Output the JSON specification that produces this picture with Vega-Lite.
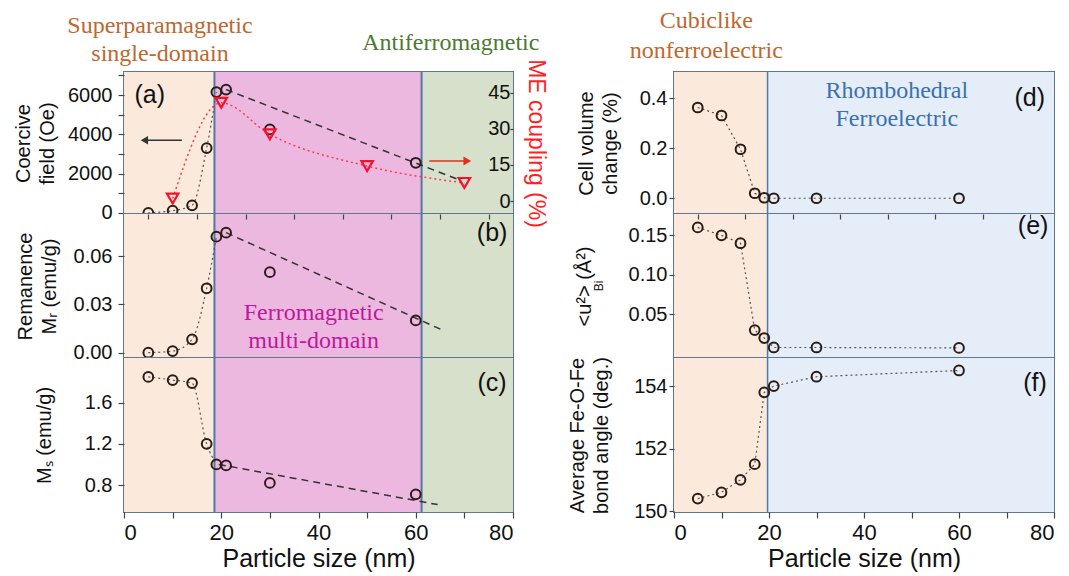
{
  "$schema": "https://vega.github.io/schema/vega-lite/v6.json",
  "background": "white",
  "padding": {"left": 12, "top": 8, "right": 4, "bottom": 4},
  "datasets": {
    "leftPhases": [
      {"x0": 0, "x1": 18.6, "phase": "single-domain"},
      {"x0": 18.6, "x1": 61.2, "phase": "multi-domain"},
      {"x0": 61.2, "x1": 80, "phase": "antiferromagnetic"}
    ],
    "rightPhases": [
      {"x0": 0, "x1": 19.7, "phase": "cubiclike"},
      {"x0": 19.7, "x1": 80, "phase": "rhombohedral"}
    ],
    "magnetic": [
      {"size": 5, "hc": 0, "mr": 0.0, "ms": 1.85},
      {"size": 10, "hc": 110, "mr": 0.001, "ms": 1.82},
      {"size": 14, "hc": 380, "mr": 0.0083, "ms": 1.79},
      {"size": 17, "hc": 3300, "mr": 0.04, "ms": 1.2},
      {"size": 19, "hc": 6150, "mr": 0.072, "ms": 1.0},
      {"size": 21, "hc": 6280, "mr": 0.0745, "ms": 0.99},
      {"size": 30, "hc": 4250, "mr": 0.05, "ms": 0.82},
      {"size": 60, "hc": 2550, "mr": 0.02, "ms": 0.71}
    ],
    "me": [
      {"size": 10, "me": 1},
      {"size": 20, "me": 40.8},
      {"size": 30, "me": 27.7},
      {"size": 50, "me": 14.5},
      {"size": 70, "me": 7.5}
    ],
    "linearFits": [
      {"panel": "hc", "size": 21, "v": 6280},
      {"panel": "hc", "size": 68.5, "v": 1720},
      {"panel": "mr", "size": 21, "v": 0.0745},
      {"panel": "mr", "size": 65.5, "v": 0.014},
      {"panel": "ms", "size": 19.5, "v": 1.0},
      {"panel": "ms", "size": 64.5, "v": 0.61}
    ],
    "structure": [
      {"size": 5, "dv": 0.363, "u2": 0.16, "angle": 150.4},
      {"size": 10, "dv": 0.331, "u2": 0.15, "angle": 150.6},
      {"size": 14, "dv": 0.196, "u2": 0.14, "angle": 151.0},
      {"size": 17, "dv": 0.02, "u2": 0.03, "angle": 151.5},
      {"size": 19, "dv": 0.002, "u2": 0.02, "angle": 153.8},
      {"size": 21, "dv": 0.0, "u2": 0.008, "angle": 154.0},
      {"size": 30, "dv": 0.0, "u2": 0.008, "angle": 154.3},
      {"size": 60, "dv": 0.0, "u2": 0.0075, "angle": 154.5}
    ]
  },
  "columns": 2,
  "spacing": {"row": 0, "column": 161},
  "bounds": "flush",
  "concat": [
    {
      "width": 389,
      "height": 142,
      "resolve": {"scale": {"y": "independent"}},
      "layer": [
        {
          "data": {"name": "leftPhases"},
          "mark": {"type": "rect"},
          "encoding": {
            "x": {"field": "x0", "type": "quantitative", "scale": {"domain": [0, 80], "nice": false, "zero": false}, "axis": null},
            "x2": {"field": "x1"},
            "color": {"field": "phase", "type": "nominal", "scale": {"domain": ["single-domain", "multi-domain", "antiferromagnetic", "cubiclike", "rhombohedral"], "range": ["#FBEADC", "#EDB8E0", "#D6E0CA", "#FBEADC", "#E4EDF8"]}, "legend": null}
          }
        },
        {
          "data": {"name": "leftPhases"},
          "transform": [{"filter": "datum.x0 > 0"}],
          "mark": {"type": "rule", "color": "#4F78A6", "strokeWidth": 2},
          "encoding": {
            "x": {"field": "x0", "type": "quantitative", "scale": {"domain": [0, 80], "nice": false, "zero": false}, "axis": null}
          }
        },
        {
          "data": {"name": "magnetic"},
          "transform": [{"filter": "datum.size <= 19"}],
          "mark": {"type": "line", "interpolate": "monotone", "strokeDash": [2, 3], "color": "#555555", "strokeWidth": 1.2},
          "encoding": {
            "x": {"field": "size", "type": "quantitative", "scale": {"domain": [0, 80], "nice": false, "zero": false}, "axis": null},
            "y": {"field": "hc", "type": "quantitative", "scale": {"domain": [-60, 7175], "nice": false, "zero": false}, "axis": null}
          }
        },
        {
          "data": {"name": "linearFits"},
          "transform": [{"filter": "datum.panel === 'hc'"}],
          "mark": {"type": "line", "strokeDash": [7, 5], "color": "#333333", "strokeWidth": 1.5},
          "encoding": {
            "x": {"field": "size", "type": "quantitative", "scale": {"domain": [0, 80], "nice": false, "zero": false}, "axis": null},
            "y": {"field": "v", "type": "quantitative", "scale": {"domain": [-60, 7175], "nice": false, "zero": false}, "axis": null}
          }
        },
        {
          "data": {"name": "magnetic"},
          "mark": {"type": "point", "shape": "circle", "filled": false, "size": 95, "strokeWidth": 2, "color": "#2b1c16", "opacity": 1},
          "encoding": {
            "x": {"field": "size", "type": "quantitative", "scale": {"domain": [0, 80], "nice": false, "zero": false}, "axis": null},
            "y": {
              "field": "hc", "type": "quantitative",
              "scale": {"domain": [-60, 7175], "nice": false, "zero": false},
              "axis": {"orient": "left", "zindex": 1, "labelOverlap": false, "values": [0, 1000, 2000, 3000, 4000, 5000, 6000, 7000], "format": "d", "labelExpr": "datum.value % 2000 === 0 ? datum.label : ''", "tickSize": 6, "labelPadding": 6, "title": ["Coercive", "field (Oe)"], "titlePadding": 10, "titleLineHeight": 24}
            }
          }
        },
        {
          "data": {"values": [{}]},
          "mark": {"type": "rule", "color": "#333333", "strokeWidth": 1.5},
          "encoding": {
            "x": {"datum": 11.9, "type": "quantitative", "scale": {"domain": [0, 80], "nice": false, "zero": false}, "axis": null},
            "x2": {"datum": 4.6},
            "y": {"datum": 3695, "type": "quantitative", "scale": {"domain": [-60, 7175], "nice": false, "zero": false}, "axis": null}
          }
        },
        {
          "data": {"values": [{}]},
          "mark": {"type": "point", "shape": "triangle-left", "filled": true, "size": 70, "color": "#333333", "opacity": 1},
          "encoding": {
            "x": {"datum": 4.2, "type": "quantitative", "scale": {"domain": [0, 80], "nice": false, "zero": false}, "axis": null},
            "y": {"datum": 3695, "type": "quantitative", "scale": {"domain": [-60, 7175], "nice": false, "zero": false}, "axis": null}
          }
        },
        {
          "data": {"values": [{}]},
          "mark": {"type": "text", "text": ["Superparamagnetic", "single-domain"], "font": "Liberation Serif", "fontSize": 24, "lineHeight": 28, "color": "#C0672E", "align": "center", "baseline": "middle"},
          "encoding": {
            "x": {"datum": 7.4, "type": "quantitative", "scale": {"domain": [0, 80], "nice": false, "zero": false}, "axis": null},
            "y": {"datum": 9519, "type": "quantitative", "scale": {"domain": [-60, 7175], "nice": false, "zero": false}, "axis": null}
          }
        },
        {
          "data": {"values": [{}]},
          "mark": {"type": "text", "text": "Antiferromagnetic", "font": "Liberation Serif", "fontSize": 24, "color": "#4C7A34", "align": "center", "baseline": "middle"},
          "encoding": {
            "x": {"datum": 67.2, "type": "quantitative", "scale": {"domain": [0, 80], "nice": false, "zero": false}, "axis": null},
            "y": {"datum": 8668, "type": "quantitative", "scale": {"domain": [-60, 7175], "nice": false, "zero": false}, "axis": null}
          }
        },
        {
          "data": {"values": [{}]},
          "mark": {"type": "text", "text": "(a)", "font": "Liberation Sans", "fontSize": 25, "color": "#111111", "align": "center", "baseline": "middle"},
          "encoding": {
            "x": {"datum": 5.3, "type": "quantitative", "scale": {"domain": [0, 80], "nice": false, "zero": false}, "axis": null},
            "y": {"datum": 6000, "type": "quantitative", "scale": {"domain": [-60, 7175], "nice": false, "zero": false}, "axis": null}
          }
        },
        {
          "data": {"name": "me"},
          "mark": {"type": "line", "interpolate": "monotone", "strokeDash": [2, 3], "color": "#FF3B4B", "strokeWidth": 1.5},
          "encoding": {
            "x": {"field": "size", "type": "quantitative", "scale": {"domain": [0, 80], "nice": false, "zero": false}, "axis": null},
            "y": {"field": "me", "type": "quantitative", "scale": {"domain": [-5.4, 53.6], "nice": false, "zero": false}, "axis": null}
          }
        },
        {
          "data": {"name": "me"},
          "mark": {"type": "point", "shape": "triangle-down", "filled": false, "size": 130, "strokeWidth": 2.2, "color": "#F5102C", "opacity": 1},
          "encoding": {
            "x": {"field": "size", "type": "quantitative", "scale": {"domain": [0, 80], "nice": false, "zero": false}, "axis": null},
            "y": {
              "field": "me", "type": "quantitative",
              "scale": {"domain": [-5.4, 53.6], "nice": false, "zero": false},
              "axis": {"orient": "right", "zindex": 1, "labelOverlap": false, "values": [0, 15, 30, 45], "format": "d", "labelAlign": "right", "tickSize": -3, "labelPadding": 0, "title": "ME coupling (%)", "titleColor": "#FF1F1F", "titleFontSize": 23, "titlePadding": 10, "titleAngle": 90}
            }
          }
        },
        {
          "data": {"values": [{}]},
          "mark": {"type": "rule", "color": "#E0301E", "strokeWidth": 1.5},
          "encoding": {
            "x": {"datum": 62.8, "type": "quantitative", "scale": {"domain": [0, 80], "nice": false, "zero": false}, "axis": null},
            "x2": {"datum": 70.2},
            "y": {"datum": 16.6, "type": "quantitative", "scale": {"domain": [-5.4, 53.6], "nice": false, "zero": false}, "axis": null}
          }
        },
        {
          "data": {"values": [{}]},
          "mark": {"type": "point", "shape": "triangle-right", "filled": true, "size": 80, "color": "#E0301E", "opacity": 1},
          "encoding": {
            "x": {"datum": 70.6, "type": "quantitative", "scale": {"domain": [0, 80], "nice": false, "zero": false}, "axis": null},
            "y": {"datum": 16.6, "type": "quantitative", "scale": {"domain": [-5.4, 53.6], "nice": false, "zero": false}, "axis": null}
          }
        }
      ]
    },
    {
      "width": 380,
      "height": 142,
      "layer": [
        {
          "data": {"name": "rightPhases"},
          "mark": {"type": "rect"},
          "encoding": {
            "x": {"field": "x0", "type": "quantitative", "scale": {"domain": [0, 80], "nice": false, "zero": false}, "axis": null},
            "x2": {"field": "x1"},
            "color": {"field": "phase", "type": "nominal", "scale": {"domain": ["single-domain", "multi-domain", "antiferromagnetic", "cubiclike", "rhombohedral"], "range": ["#FBEADC", "#EDB8E0", "#D6E0CA", "#FBEADC", "#E4EDF8"]}, "legend": null}
          }
        },
        {
          "data": {"name": "rightPhases"},
          "transform": [{"filter": "datum.x0 > 0"}],
          "mark": {"type": "rule", "color": "#4F78A6", "strokeWidth": 1.5},
          "encoding": {
            "x": {"field": "x0", "type": "quantitative", "scale": {"domain": [0, 80], "nice": false, "zero": false}, "axis": null}
          }
        },
        {
          "data": {"name": "structure"},
          "mark": {"type": "line", "strokeDash": [2, 3], "color": "#555555", "strokeWidth": 1.2},
          "encoding": {
            "x": {"field": "size", "type": "quantitative", "scale": {"domain": [0, 80], "nice": false, "zero": false}, "axis": null},
            "y": {
              "field": "dv", "type": "quantitative",
              "scale": {"domain": [-0.063, 0.505], "nice": false, "zero": false},
              "axis": {"orient": "left", "zindex": 1, "labelOverlap": false, "values": [0, 0.1, 0.2, 0.3, 0.4], "format": ".1f", "labelExpr": "round(datum.value * 10) % 2 === 0 ? datum.label : ''", "tickSize": 5, "labelPadding": 2, "title": ["Cell volume", "change (%)"], "titlePadding": 19, "titleLineHeight": 24}
            }
          }
        },
        {
          "data": {"name": "structure"},
          "mark": {"type": "point", "shape": "circle", "filled": false, "size": 95, "strokeWidth": 2, "color": "#2b1c16", "opacity": 1},
          "encoding": {
            "x": {"field": "size", "type": "quantitative", "scale": {"domain": [0, 80], "nice": false, "zero": false}, "axis": null},
            "y": {"field": "dv", "type": "quantitative", "scale": {"domain": [-0.063, 0.505], "nice": false, "zero": false}}
          }
        },
        {
          "data": {"values": [{}]},
          "mark": {"type": "text", "text": ["Cubiclike", "nonferroelectric"], "font": "Liberation Serif", "fontSize": 24, "lineHeight": 30, "color": "#C0672E", "align": "center", "baseline": "middle"},
          "encoding": {
            "x": {"datum": 6.8, "type": "quantitative", "scale": {"domain": [0, 80], "nice": false, "zero": false}, "axis": null},
            "y": {"datum": 0.709, "type": "quantitative", "scale": {"domain": [-0.063, 0.505], "nice": false, "zero": false}}
          }
        },
        {
          "data": {"values": [{}]},
          "mark": {"type": "text", "text": ["Rhombohedral", "Ferroelectric"], "font": "Liberation Serif", "fontSize": 24, "lineHeight": 28, "color": "#3C70AE", "align": "center", "baseline": "middle"},
          "encoding": {
            "x": {"datum": 46.9, "type": "quantitative", "scale": {"domain": [0, 80], "nice": false, "zero": false}, "axis": null},
            "y": {"datum": 0.429, "type": "quantitative", "scale": {"domain": [-0.063, 0.505], "nice": false, "zero": false}}
          }
        },
        {
          "data": {"values": [{}]},
          "mark": {"type": "text", "text": "(d)", "font": "Liberation Sans", "fontSize": 25, "color": "#111111", "align": "center", "baseline": "middle"},
          "encoding": {
            "x": {"datum": 74.9, "type": "quantitative", "scale": {"domain": [0, 80], "nice": false, "zero": false}, "axis": null},
            "y": {"datum": 0.402, "type": "quantitative", "scale": {"domain": [-0.063, 0.505], "nice": false, "zero": false}}
          }
        }
      ]
    },
    {
      "width": 389,
      "height": 144,
      "layer": [
        {
          "data": {"name": "leftPhases"},
          "mark": {"type": "rect"},
          "encoding": {
            "x": {"field": "x0", "type": "quantitative", "scale": {"domain": [0, 80], "nice": false, "zero": false}, "axis": {"orient": "top", "zindex": 1, "values": [5, 10, 15, 20, 25, 30, 35, 40, 45, 50, 55, 60, 65, 70, 75], "labels": false, "tickSize": -5, "title": null}},
            "x2": {"field": "x1"},
            "color": {"field": "phase", "type": "nominal", "scale": {"domain": ["single-domain", "multi-domain", "antiferromagnetic", "cubiclike", "rhombohedral"], "range": ["#FBEADC", "#EDB8E0", "#D6E0CA", "#FBEADC", "#E4EDF8"]}, "legend": null}
          }
        },
        {
          "data": {"name": "leftPhases"},
          "transform": [{"filter": "datum.x0 > 0"}],
          "mark": {"type": "rule", "color": "#4F78A6", "strokeWidth": 2},
          "encoding": {
            "x": {"field": "x0", "type": "quantitative", "scale": {"domain": [0, 80], "nice": false, "zero": false}}
          }
        },
        {
          "data": {"name": "magnetic"},
          "transform": [{"filter": "datum.size <= 19"}],
          "mark": {"type": "line", "interpolate": "monotone", "strokeDash": [2, 3], "color": "#555555", "strokeWidth": 1.2},
          "encoding": {
            "x": {"field": "size", "type": "quantitative", "scale": {"domain": [0, 80], "nice": false, "zero": false}},
            "y": {
              "field": "mr", "type": "quantitative",
              "scale": {"domain": [-0.0033, 0.0861], "nice": false, "zero": false},
              "axis": {"orient": "left", "zindex": 1, "labelOverlap": false, "values": [0, 0.015, 0.03, 0.045, 0.06, 0.075], "format": ".2f", "labelExpr": "round(datum.value * 1000) % 30 === 0 ? datum.label : ''", "tickSize": 6, "labelPadding": 6, "title": ["Remanence", "Mᵣ (emu/g)"], "titlePadding": 14, "titleLineHeight": 24}
            }
          }
        },
        {
          "data": {"name": "linearFits"},
          "transform": [{"filter": "datum.panel === 'mr'"}],
          "mark": {"type": "line", "strokeDash": [7, 5], "color": "#333333", "strokeWidth": 1.5},
          "encoding": {
            "x": {"field": "size", "type": "quantitative", "scale": {"domain": [0, 80], "nice": false, "zero": false}},
            "y": {"field": "v", "type": "quantitative", "scale": {"domain": [-0.0033, 0.0861], "nice": false, "zero": false}}
          }
        },
        {
          "data": {"name": "magnetic"},
          "mark": {"type": "point", "shape": "circle", "filled": false, "size": 95, "strokeWidth": 2, "color": "#2b1c16", "opacity": 1},
          "encoding": {
            "x": {"field": "size", "type": "quantitative", "scale": {"domain": [0, 80], "nice": false, "zero": false}},
            "y": {"field": "mr", "type": "quantitative", "scale": {"domain": [-0.0033, 0.0861], "nice": false, "zero": false}}
          }
        },
        {
          "data": {"values": [{}]},
          "mark": {"type": "text", "text": ["Ferromagnetic", "multi-domain"], "font": "Liberation Serif", "fontSize": 24, "lineHeight": 28, "color": "#C0179C", "align": "center", "baseline": "middle"},
          "encoding": {
            "x": {"datum": 39, "type": "quantitative", "scale": {"domain": [0, 80], "nice": false, "zero": false}},
            "y": {"datum": 0.0249, "type": "quantitative", "scale": {"domain": [-0.0033, 0.0861], "nice": false, "zero": false}}
          }
        },
        {
          "data": {"values": [{}]},
          "mark": {"type": "text", "text": "(b)", "font": "Liberation Sans", "fontSize": 25, "color": "#111111", "align": "center", "baseline": "middle"},
          "encoding": {
            "x": {"datum": 75.7, "type": "quantitative", "scale": {"domain": [0, 80], "nice": false, "zero": false}},
            "y": {"datum": 0.0745, "type": "quantitative", "scale": {"domain": [-0.0033, 0.0861], "nice": false, "zero": false}}
          }
        }
      ]
    },
    {
      "width": 380,
      "height": 144,
      "layer": [
        {
          "data": {"name": "rightPhases"},
          "mark": {"type": "rect"},
          "encoding": {
            "x": {"field": "x0", "type": "quantitative", "scale": {"domain": [0, 80], "nice": false, "zero": false}, "axis": {"orient": "top", "zindex": 1, "values": [5, 10, 15, 20, 25, 30, 35, 40, 45, 50, 55, 60, 65, 70, 75], "labels": false, "tickSize": -5, "title": null}},
            "x2": {"field": "x1"},
            "color": {"field": "phase", "type": "nominal", "scale": {"domain": ["single-domain", "multi-domain", "antiferromagnetic", "cubiclike", "rhombohedral"], "range": ["#FBEADC", "#EDB8E0", "#D6E0CA", "#FBEADC", "#E4EDF8"]}, "legend": null}
          }
        },
        {
          "data": {"name": "rightPhases"},
          "transform": [{"filter": "datum.x0 > 0"}],
          "mark": {"type": "rule", "color": "#4F78A6", "strokeWidth": 1.5},
          "encoding": {
            "x": {"field": "x0", "type": "quantitative", "scale": {"domain": [0, 80], "nice": false, "zero": false}}
          }
        },
        {
          "data": {"name": "structure"},
          "mark": {"type": "line", "strokeDash": [2, 3], "color": "#555555", "strokeWidth": 1.2},
          "encoding": {
            "x": {"field": "size", "type": "quantitative", "scale": {"domain": [0, 80], "nice": false, "zero": false}},
            "y": {
              "field": "u2", "type": "quantitative",
              "scale": {"domain": [-0.0053, 0.177], "nice": false, "zero": false},
              "axis": {"orient": "left", "zindex": 1, "labelOverlap": false, "values": [0.05, 0.1, 0.15], "format": ".2f", "tickSize": 5, "labelPadding": 2, "title": "<u²>    (Å²)", "titlePadding": 34}
            }
          }
        },
        {
          "data": {"name": "structure"},
          "mark": {"type": "point", "shape": "circle", "filled": false, "size": 95, "strokeWidth": 2, "color": "#2b1c16", "opacity": 1},
          "encoding": {
            "x": {"field": "size", "type": "quantitative", "scale": {"domain": [0, 80], "nice": false, "zero": false}},
            "y": {"field": "u2", "type": "quantitative", "scale": {"domain": [-0.0053, 0.177], "nice": false, "zero": false}}
          }
        },
        {
          "data": {"values": [{}]},
          "mark": {"type": "text", "text": "Bi", "font": "Liberation Sans", "fontSize": 12, "angle": 270, "color": "#111111", "align": "center", "baseline": "middle"},
          "encoding": {
            "x": {"datum": -15.7, "type": "quantitative", "scale": {"domain": [0, 80], "nice": false, "zero": false}},
            "y": {"datum": 0.086, "type": "quantitative", "scale": {"domain": [-0.0053, 0.177], "nice": false, "zero": false}}
          }
        },
        {
          "data": {"values": [{}]},
          "mark": {"type": "text", "text": "(e)", "font": "Liberation Sans", "fontSize": 25, "color": "#111111", "align": "center", "baseline": "middle"},
          "encoding": {
            "x": {"datum": 75.6, "type": "quantitative", "scale": {"domain": [0, 80], "nice": false, "zero": false}},
            "y": {"datum": 0.1618, "type": "quantitative", "scale": {"domain": [-0.0053, 0.177], "nice": false, "zero": false}}
          }
        }
      ]
    },
    {
      "width": 389,
      "height": 154,
      "layer": [
        {
          "data": {"name": "leftPhases"},
          "mark": {"type": "rect"},
          "encoding": {
            "x": {"field": "x0", "type": "quantitative", "scale": {"domain": [0, 80], "nice": false, "zero": false}, "axis": {"orient": "bottom", "zindex": 1, "labelOverlap": false, "values": [0, 10, 20, 30, 40, 50, 60, 70, 80], "labelExpr": "datum.value % 20 === 0 ? datum.label : ''", "labelFontSize": 22, "tickSize": 6, "labelPadding": 4, "title": "Particle size (nm)", "titleFontSize": 25, "titlePadding": 3}},
            "x2": {"field": "x1"},
            "color": {"field": "phase", "type": "nominal", "scale": {"domain": ["single-domain", "multi-domain", "antiferromagnetic", "cubiclike", "rhombohedral"], "range": ["#FBEADC", "#EDB8E0", "#D6E0CA", "#FBEADC", "#E4EDF8"]}, "legend": null}
          }
        },
        {
          "data": {"name": "leftPhases"},
          "transform": [{"filter": "datum.x0 > 0"}],
          "mark": {"type": "rule", "color": "#4F78A6", "strokeWidth": 2},
          "encoding": {
            "x": {"field": "x0", "type": "quantitative", "scale": {"domain": [0, 80], "nice": false, "zero": false}}
          }
        },
        {
          "data": {"name": "magnetic"},
          "transform": [{"filter": "datum.size <= 19"}],
          "mark": {"type": "line", "interpolate": "monotone", "strokeDash": [2, 3], "color": "#555555", "strokeWidth": 1.2},
          "encoding": {
            "x": {"field": "size", "type": "quantitative", "scale": {"domain": [0, 80], "nice": false, "zero": false}},
            "y": {
              "field": "ms", "type": "quantitative",
              "scale": {"domain": [0.538, 2.034], "nice": false, "zero": false},
              "axis": {"orient": "left", "zindex": 1, "labelOverlap": false, "values": [0.8, 1.2, 1.6], "format": ".1f", "tickSize": 6, "labelPadding": 6, "title": "Mₛ (emu/g)", "titlePadding": 30}
            }
          }
        },
        {
          "data": {"name": "linearFits"},
          "transform": [{"filter": "datum.panel === 'ms'"}],
          "mark": {"type": "line", "strokeDash": [7, 5], "color": "#333333", "strokeWidth": 1.5},
          "encoding": {
            "x": {"field": "size", "type": "quantitative", "scale": {"domain": [0, 80], "nice": false, "zero": false}},
            "y": {"field": "v", "type": "quantitative", "scale": {"domain": [0.538, 2.034], "nice": false, "zero": false}}
          }
        },
        {
          "data": {"name": "magnetic"},
          "mark": {"type": "point", "shape": "circle", "filled": false, "size": 95, "strokeWidth": 2, "color": "#2b1c16", "opacity": 1},
          "encoding": {
            "x": {"field": "size", "type": "quantitative", "scale": {"domain": [0, 80], "nice": false, "zero": false}},
            "y": {"field": "ms", "type": "quantitative", "scale": {"domain": [0.538, 2.034], "nice": false, "zero": false}}
          }
        },
        {
          "data": {"values": [{}]},
          "mark": {"type": "text", "text": "(c)", "font": "Liberation Sans", "fontSize": 25, "color": "#111111", "align": "center", "baseline": "middle"},
          "encoding": {
            "x": {"datum": 75.7, "type": "quantitative", "scale": {"domain": [0, 80], "nice": false, "zero": false}},
            "y": {"datum": 1.794, "type": "quantitative", "scale": {"domain": [0.538, 2.034], "nice": false, "zero": false}}
          }
        }
      ]
    },
    {
      "width": 380,
      "height": 154,
      "layer": [
        {
          "data": {"name": "rightPhases"},
          "mark": {"type": "rect"},
          "encoding": {
            "x": {"field": "x0", "type": "quantitative", "scale": {"domain": [0, 80], "nice": false, "zero": false}, "axis": {"orient": "bottom", "zindex": 1, "labelOverlap": false, "values": [0, 10, 20, 30, 40, 50, 60, 70, 80], "labelExpr": "datum.value % 20 === 0 ? datum.label : ''", "labelFontSize": 22, "tickSize": 6, "labelPadding": 4, "title": "Particle size (nm)", "titleFontSize": 25, "titlePadding": 3}},
            "x2": {"field": "x1"},
            "color": {"field": "phase", "type": "nominal", "scale": {"domain": ["single-domain", "multi-domain", "antiferromagnetic", "cubiclike", "rhombohedral"], "range": ["#FBEADC", "#EDB8E0", "#D6E0CA", "#FBEADC", "#E4EDF8"]}, "legend": null}
          }
        },
        {
          "data": {"name": "rightPhases"},
          "transform": [{"filter": "datum.x0 > 0"}],
          "mark": {"type": "rule", "color": "#4F78A6", "strokeWidth": 1.5},
          "encoding": {
            "x": {"field": "x0", "type": "quantitative", "scale": {"domain": [0, 80], "nice": false, "zero": false}}
          }
        },
        {
          "data": {"name": "structure"},
          "mark": {"type": "line", "strokeDash": [2, 3], "color": "#555555", "strokeWidth": 1.2},
          "encoding": {
            "x": {"field": "size", "type": "quantitative", "scale": {"domain": [0, 80], "nice": false, "zero": false}},
            "y": {
              "field": "angle", "type": "quantitative",
              "scale": {"domain": [149.97, 154.9], "nice": false, "zero": false},
              "axis": {"orient": "left", "zindex": 1, "labelOverlap": false, "values": [150, 151, 152, 153, 154], "format": "d", "labelExpr": "datum.value % 2 === 0 ? datum.label : ''", "tickSize": 5, "labelPadding": 2, "title": ["Average Fe-O-Fe", "bond angle (deg.)"], "titlePadding": 22, "titleLineHeight": 24}
            }
          }
        },
        {
          "data": {"name": "structure"},
          "mark": {"type": "point", "shape": "circle", "filled": false, "size": 95, "strokeWidth": 2, "color": "#2b1c16", "opacity": 1},
          "encoding": {
            "x": {"field": "size", "type": "quantitative", "scale": {"domain": [0, 80], "nice": false, "zero": false}},
            "y": {"field": "angle", "type": "quantitative", "scale": {"domain": [149.97, 154.9], "nice": false, "zero": false}}
          }
        },
        {
          "data": {"values": [{}]},
          "mark": {"type": "text", "text": "(f)", "font": "Liberation Sans", "fontSize": 25, "color": "#111111", "align": "center", "baseline": "middle"},
          "encoding": {
            "x": {"datum": 76, "type": "quantitative", "scale": {"domain": [0, 80], "nice": false, "zero": false}},
            "y": {"datum": 154.11, "type": "quantitative", "scale": {"domain": [149.97, 154.9], "nice": false, "zero": false}}
          }
        }
      ]
    }
  ],
  "config": {
    "font": "Liberation Sans",
    "view": {"stroke": "#5F7793", "strokeWidth": 2},
    "axis": {
      "labelFont": "Liberation Sans",
      "titleFont": "Liberation Sans",
      "labelFontSize": 20,
      "titleFontSize": 20,
      "titleFontWeight": "normal",
      "labelColor": "#111111",
      "titleColor": "#111111",
      "tickColor": "#444444",
      "tickWidth": 1.2,
      "labelOverlap": false,
      "domain": false,
      "grid": false
    }
  }
}
